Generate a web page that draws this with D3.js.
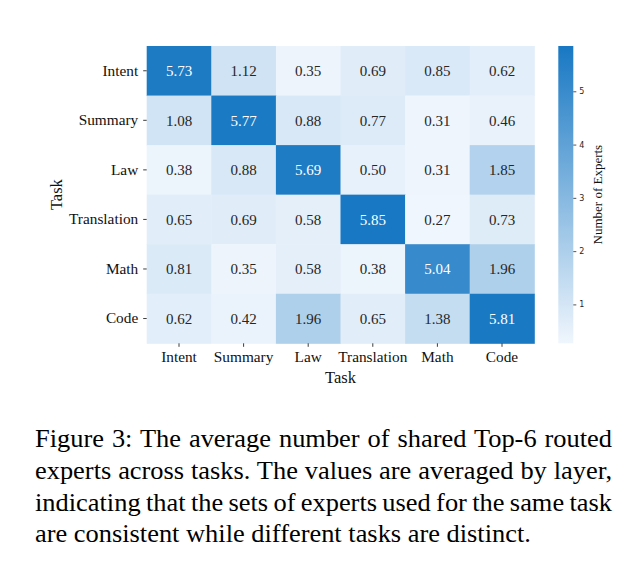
<!DOCTYPE html>
<html>
<head>
<meta charset="utf-8">
<script src="https://cdn.jsdelivr.net/npm/d3@7"></script>
<style>
  body { margin: 0; background: #fff; }
  svg text { font-family: "Liberation Serif", "Times New Roman", serif; }
</style>
</head>
<body>
<svg id="chart" width="641" height="567"></svg>
<script>
// task names, rows top->bottom and columns left->right
var tasks = ["Intent", "Summary", "Law", "Translation", "Math", "Code"];

// shared experts, one row per task
var intentRow      = [5.73, 1.12, 0.35, 0.69, 0.85, 0.62];
var summaryRow     = [1.08, 5.77, 0.88, 0.77, 0.31, 0.46];
var lawRow         = [0.38, 0.88, 5.69, 0.50, 0.31, 1.85];
var translationRow = [0.65, 0.69, 0.58, 5.85, 0.27, 0.73];
var mathRow        = [0.81, 0.35, 0.58, 0.38, 5.04, 1.96];
var codeRow        = [0.62, 0.42, 1.96, 0.65, 1.38, 5.81];

var colorbarTicks = [1, 2, 3, 4, 5];

var captionLines = [
  "Figure 3: The average number of shared Top-6 routed",
  "experts across tasks. The values are averaged by layer,",
  "indicating that the sets of experts used for the same task",
  "are consistent while different tasks are distinct."
];

var rows = [intentRow, summaryRow, lawRow, translationRow, mathRow, codeRow];

var cells = [];
rows.forEach(function (r, i) {
  r.forEach(function (v, j) {
    cells.push({ row: tasks[i], col: tasks[j], value: v });
  });
});

var vmin = d3.min(cells, function (d) { return d.value; });
var vmax = d3.max(cells, function (d) { return d.value; });

var svg = d3.select("#chart");

var mLeft = 146.7, mTop = 46, width = 387.6, height = 297.3;

var x = d3.scaleBand().domain(tasks).range([mLeft, mLeft + width]);
var y = d3.scaleBand().domain(tasks).range([mTop, mTop + height]);

var color = d3.scaleLinear()
  .domain([vmin, vmax])
  .range(["#f0f6fd", "#1878c3"])
  .interpolate(d3.interpolateRgb);

svg.selectAll(".cell")
  .data(cells)
  .enter().append("rect")
  .attr("class", "cell")
  .attr("x", function (d) { return x(d.col); })
  .attr("y", function (d) { return y(d.row); })
  .attr("width", x.bandwidth() + 0.5)
  .attr("height", y.bandwidth() + 0.5)
  .attr("fill", function (d) { return color(d.value); });

svg.selectAll(".val")
  .data(cells)
  .enter().append("text")
  .attr("class", "val")
  .attr("x", function (d) { return x(d.col) + x.bandwidth() / 2; })
  .attr("y", function (d) { return y(d.row) + y.bandwidth() / 2; })
  .attr("dy", "0.35em")
  .attr("text-anchor", "middle")
  .style("font-size", "15px")
  .style("fill", function (d) { return d.value > 3 ? "#ffffff" : "#262626"; })
  .text(function (d) { return d.value.toFixed(2); });

// axes
var xAxis = svg.append("g")
  .attr("transform", "translate(0," + (mTop + height) + ")")
  .call(d3.axisBottom(x).tickSize(3.5).tickPadding(4.5));
var yAxis = svg.append("g")
  .attr("transform", "translate(" + mLeft + ",0)")
  .call(d3.axisLeft(y).tickSize(3.5).tickPadding(5));

[xAxis, yAxis].forEach(function (g) {
  g.select(".domain").remove();
  g.selectAll(".tick line").attr("stroke", "#262626").attr("stroke-width", 0.9);
  g.selectAll(".tick text")
    .style("font-family", "Liberation Serif, serif")
    .style("font-size", "15.3px")
    .attr("fill", "#111");
});

svg.append("text")
  .attr("x", mLeft + width / 2)
  .attr("y", 383)
  .attr("text-anchor", "middle")
  .style("font-size", "16.5px")
  .attr("fill", "#111")
  .text("Task");

svg.append("text")
  .attr("transform", "translate(61.5," + (mTop + height / 2) + ") rotate(-90)")
  .attr("text-anchor", "middle")
  .style("font-size", "16.5px")
  .attr("fill", "#111")
  .text("Task");

// colorbar
var cbX = 558.3, cbW = 15;
var cy = d3.scaleLinear().domain([vmin, vmax]).range([mTop + height, mTop]);

var defs = svg.append("defs");
var grad = defs.append("linearGradient")
  .attr("id", "cbGrad")
  .attr("x1", 0).attr("y1", 1).attr("x2", 0).attr("y2", 0);
grad.append("stop").attr("offset", "0%").attr("stop-color", color(vmin));
grad.append("stop").attr("offset", "100%").attr("stop-color", color(vmax));

svg.append("rect")
  .attr("x", cbX).attr("y", mTop)
  .attr("width", cbW).attr("height", height)
  .attr("fill", "url(#cbGrad)");

var cbAxis = svg.append("g")
  .attr("transform", "translate(" + (cbX + cbW) + ",0)")
  .call(d3.axisRight(cy).tickValues(colorbarTicks).tickFormat(d3.format("d"))
    .tickSize(3).tickPadding(3));
cbAxis.select(".domain").remove();
cbAxis.selectAll(".tick line").attr("stroke", "#262626").attr("stroke-width", 0.8);
cbAxis.selectAll(".tick text")
  .style("font-family", "DejaVu Sans, sans-serif")
  .style("font-size", "8px")
  .attr("fill", "#262626");

svg.append("text")
  .attr("transform", "translate(601.5," + (mTop + height / 2) + ") rotate(-90)")
  .attr("text-anchor", "middle")
  .style("font-size", "13px")
  .attr("fill", "#111")
  .text("Number of Experts");

// caption, justified like the paper except the last line
// the pdf glyphs are a bit wider than Liberation Serif, so stretch x a little
var capScale = 1.065, capWidth = 577 / capScale;
var cap = svg.append("g")
  .attr("transform", "translate(35,0) scale(" + capScale + ",1)");
cap.selectAll(".cap")
  .data(captionLines)
  .enter().append("text")
  .attr("class", "cap")
  .attr("x", 0)
  .attr("y", function (d, i) { return 447.3 + i * 31.67; })
  .style("font-size", "24.8px")
  .attr("fill", "#000")
  .text(function (d) { return d; })
  .each(function (d, i) {
    if (i === captionLines.length - 1) return;
    var gaps = d.split(" ").length - 1;
    var extra = (capWidth - this.getComputedTextLength()) / gaps;
    d3.select(this).style("word-spacing", extra + "px");
  });
</script>
</body>
</html>
